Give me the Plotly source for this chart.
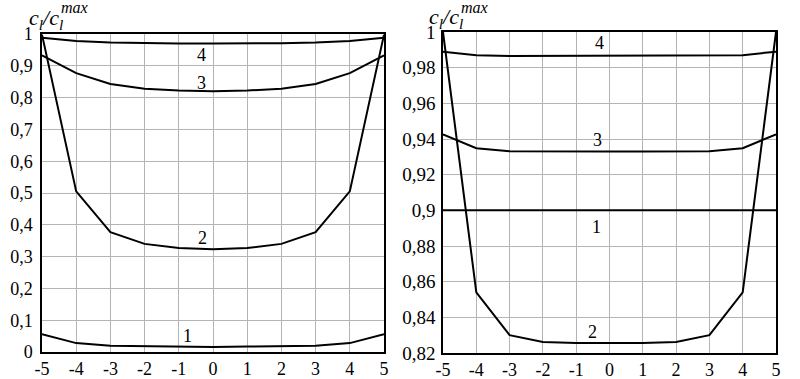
import plotly.graph_objects as go

x_vals = [-5, -4, -3, -2, -1, 0, 1, 2, 3, 4, 5]

# Left panel series
left_1 = [0.056, 0.028, 0.020, 0.018, 0.017, 0.016, 0.017, 0.018, 0.020, 0.028, 0.056]
left_2 = [0.998, 0.505, 0.377, 0.340, 0.327, 0.323, 0.327, 0.340, 0.377, 0.505, 0.998]
left_3 = [0.933, 0.877, 0.843, 0.828, 0.822, 0.820, 0.822, 0.828, 0.843, 0.877, 0.933]
left_4 = [0.988, 0.978, 0.973, 0.971, 0.970, 0.970, 0.970, 0.971, 0.973, 0.978, 0.988]

# Right panel series
right_1 = [0.900, 0.900, 0.900, 0.900, 0.900, 0.900, 0.900, 0.900, 0.900, 0.900, 0.900]
right_2 = [1.000, 0.854, 0.830, 0.8262, 0.8256, 0.8256, 0.8256, 0.8262, 0.830, 0.854, 1.000]
right_3 = [0.9426, 0.9348, 0.9332, 0.9330, 0.9330, 0.9330, 0.9330, 0.9330, 0.9332, 0.9348, 0.9426]
right_4 = [0.9890, 0.9870, 0.9866, 0.9866, 0.9866, 0.9866, 0.9866, 0.9866, 0.9866, 0.9870, 0.9890]

left_yticks = [0, 0.1, 0.2, 0.3, 0.4, 0.5, 0.6, 0.7, 0.8, 0.9, 1]
left_yticktext = ["0", "0,1", "0,2", "0,3", "0,4", "0,5", "0,6", "0,7", "0,8", "0,9", "1"]
right_yticks = [0.82, 0.84, 0.86, 0.88, 0.90, 0.92, 0.94, 0.96, 0.98, 1.0]
right_yticktext = ["0,82", "0,84", "0,86", "0,88", "0,9", "0,92", "0,94", "0,96", "0,98", "1"]
x_ticktext = ["-5", "-4", "-3", "-2", "-1", "0", "1", "2", "3", "4", "5"]

# curve labels: (text, x, y)
left_labels = [("4", -0.35, 0.935), ("3", -0.35, 0.846), ("2", -0.3, 0.36), ("1", -0.75, 0.05)]
right_labels = [("4", -0.3, 0.9937), ("3", -0.35, 0.9393), ("1", -0.4, 0.8909), ("2", -0.5, 0.8318)]

FONT = "Liberation Serif, Times New Roman, serif"
line_style = dict(color="black", width=2)

fig = go.Figure()
for s in [left_1, left_2, left_3, left_4]:
    fig.add_trace(go.Scatter(x=x_vals, y=s, mode="lines", line=line_style,
                             xaxis="x", yaxis="y", showlegend=False, hoverinfo="skip"))
for s in [right_1, right_2, right_3, right_4]:
    fig.add_trace(go.Scatter(x=x_vals, y=s, mode="lines", line=line_style,
                             xaxis="x2", yaxis="y2", showlegend=False, hoverinfo="skip"))


def axis(**kw):
    d = dict(
        showgrid=True, gridcolor="#b4b4b4", gridwidth=1,
        showline=True, linecolor="black", linewidth=1.5, mirror=True,
        ticks="", zeroline=False, automargin=False,
        tickfont=dict(family=FONT, size=18, color="black"),
    )
    d.update(kw)
    return d


fig.update_layout(
    width=800, height=379,
    margin=dict(l=0, r=0, t=0, b=0),
    paper_bgcolor="white", plot_bgcolor="white",
    font=dict(family=FONT, size=18, color="black"),
    xaxis=axis(domain=[42/800, 384/800], range=[-5, 5], tickvals=x_vals, ticktext=x_ticktext,
               anchor="y"),
    yaxis=axis(domain=[1-352/379, 1-34/379], range=[0, 1], tickvals=left_yticks,
               ticktext=left_yticktext, anchor="x", ticklabelstandoff=4),
    xaxis2=axis(domain=[443/800, 776/800], range=[-5, 5], tickvals=x_vals, ticktext=x_ticktext,
                anchor="y2"),
    yaxis2=axis(domain=[1-353/379, 1-32/379], range=[0.82, 1.0], tickvals=right_yticks,
                ticktext=right_yticktext, anchor="x2", ticklabelstandoff=2,
                tickfont=dict(family=FONT, size=19, color="black")),
)

for txt, xx, yy in left_labels:
    fig.add_annotation(x=xx, y=yy, xref="x", yref="y", text=txt, showarrow=False,
                       font=dict(family=FONT, size=18, color="black"))
for txt, xx, yy in right_labels:
    fig.add_annotation(x=xx, y=yy, xref="x2", yref="y2", text=txt, showarrow=False,
                       font=dict(family=FONT, size=18, color="black"))

# axis titles: c_l / c_l^max with 'max' stacked above the second subscript
title_main = "<i>c<sub>l</sub>/c<sub>l</sub></i>"
for x0, ytop, mtop in [(27, 3, -3), (427, 2, -3)]:
    fig.add_annotation(x=x0/800, y=1-ytop/379, xref="paper", yref="paper",
                       xanchor="left", yanchor="top", text=title_main, showarrow=False,
                       font=dict(family=FONT, size=22, color="black"))
    fig.add_annotation(x=(x0+32)/800, y=1-mtop/379, xref="paper", yref="paper",
                       xanchor="left", yanchor="top", text="<i>max</i>", showarrow=False,
                       font=dict(family=FONT, size=16, color="black"))

fig.write_html("out.html", post_script="document.body.style.margin='0';",
               config={"displayModeBar": False})
